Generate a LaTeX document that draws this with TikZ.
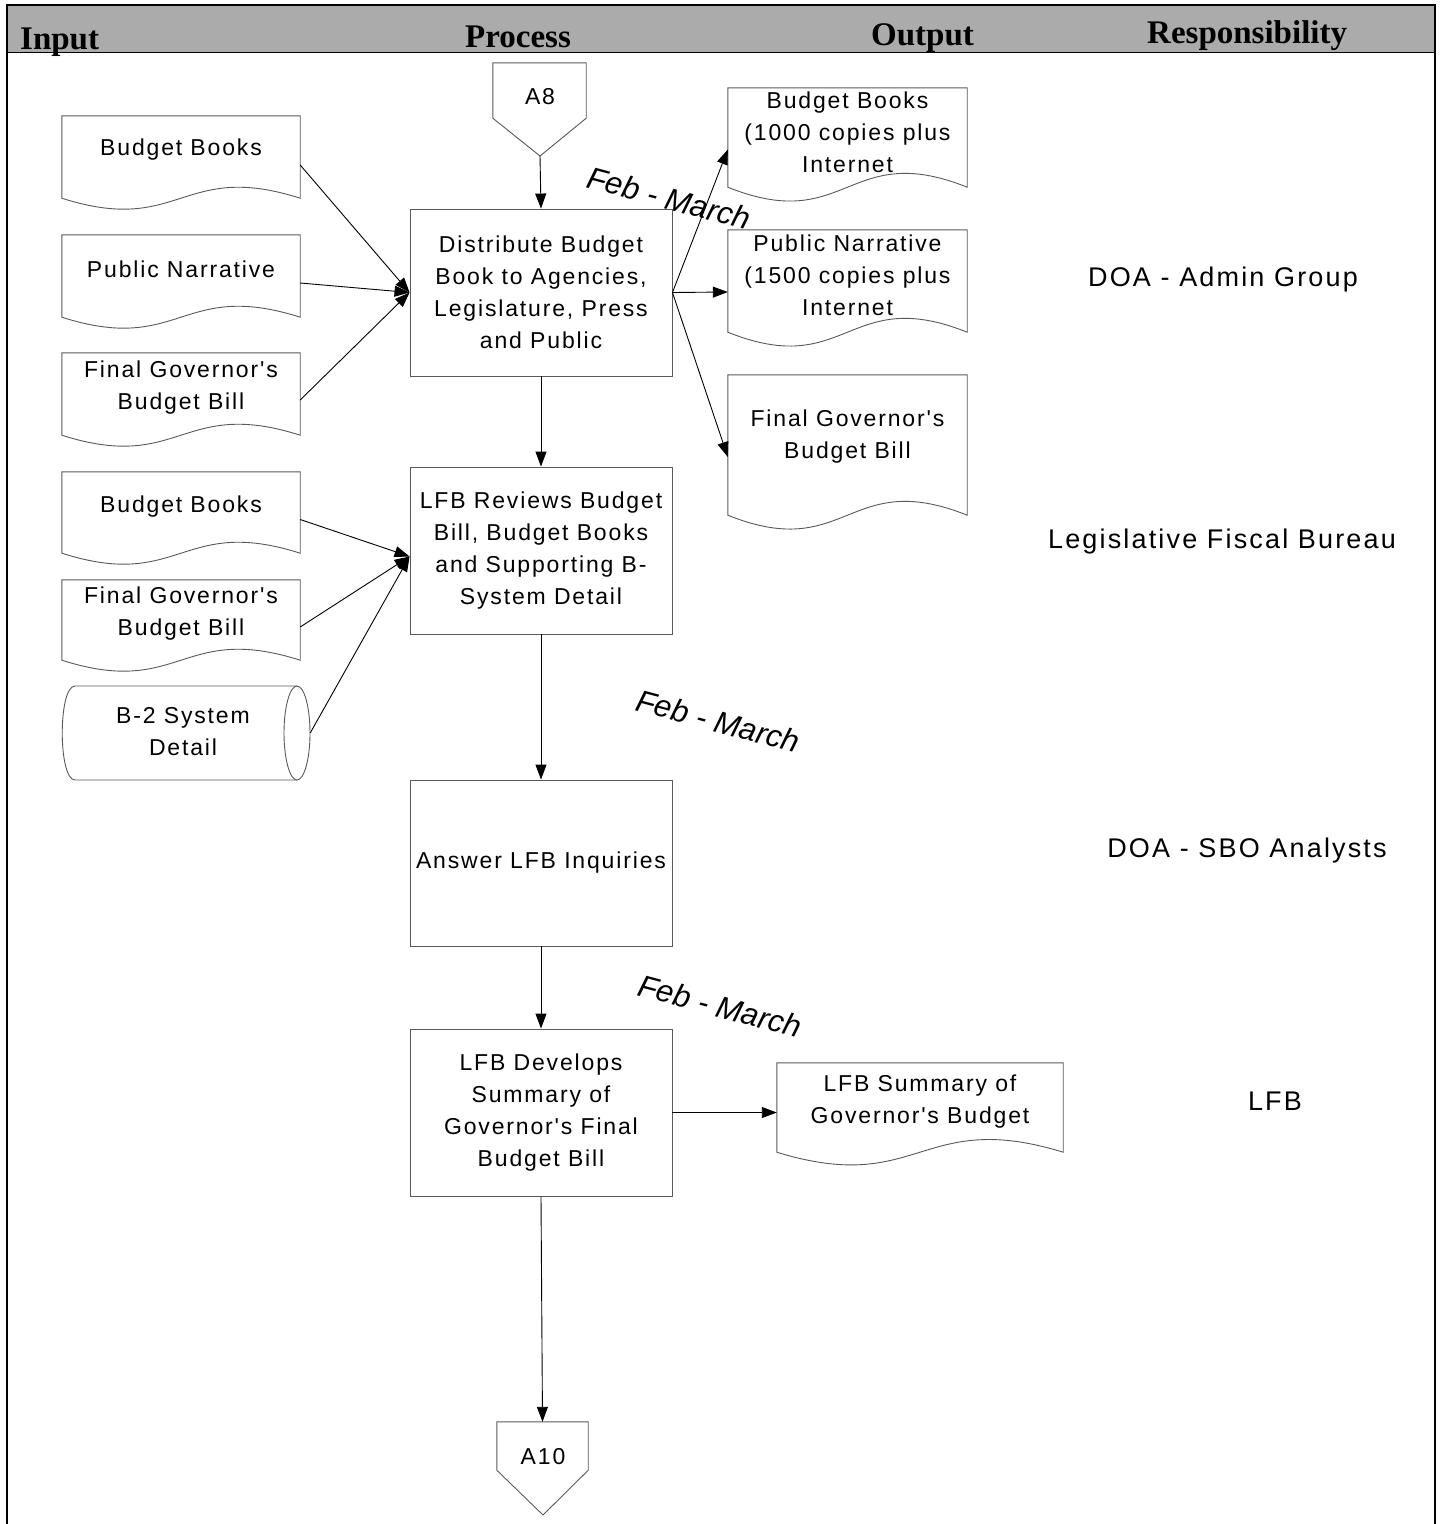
\documentclass[tikz,border=0pt]{standalone}
\usepackage{fontspec}
\usetikzlibrary{arrows.meta,calc}
\newfontfamily\bodyf{Liberation Sans}[LetterSpace=8]
\newfontfamily\headf{Liberation Serif}
\newfontfamily\datef{Liberation Sans}
\newcommand\bodysz{\bodyf\fontsize{23}{32}\selectfont}
\newcommand\respsz{\bodyf\fontsize{27}{30}\selectfont}
\newcommand\headsz{\headf\bfseries\fontsize{33}{33}\selectfont}
\newcommand\datesz{\datef\itshape\fontsize{31}{31}\selectfont}

% document symbol: name, centre x, centre y, width, side height, wave depth, text y, text
\newcommand\docshape[8]{%
  \node[region, minimum width=#4pt, minimum height=#5pt] (#1) at (#2,#3) {};
  \draw[outline] (#1.north west) -- (#1.north east) -- (#1.south east)
    .. controls ($(#1.south)+(0,-#6)$) and ($(#1.south)+(0,#6)$) .. (#1.south west) -- cycle;
  \node[txt] (#1-text) at (#2,#7) {#8};
}

\begin{document}
\begin{tikzpicture}[x=1pt,y=-1pt,
  outline/.style={draw=black!65, line width=0.9pt},
  region/.style={inner sep=0pt, draw=none},
  txt/.style={align=center, inner sep=0pt, font=\bodysz},
  procbox/.style={outline, minimum width=262pt, minimum height=167pt, inner sep=0pt, align=center, font=\bodysz},
  arr/.style={draw=black, line width=0.9pt, -{Triangle[length=15pt,width=11pt]}},
  headtext/.style={font=\headsz, inner sep=0pt, anchor=base west},
  resp/.style={font=\respsz, inner sep=0pt, anchor=base},
  datelbl/.style={font=\datesz, inner sep=0pt, rotate=-15}]
\useasboundingbox (0,0) rectangle (1440,1524);

% header band and frame
\fill[black!33] (7,5) rectangle (1435,52);
\draw[line width=1.2pt] (7,1524) -- (7,5) -- (1435,5) -- (1435,1524);
\draw[line width=1pt] (7,52) -- (1435,52);
\node[headtext] (h-input) at (20,49) {Input};
\node[headtext] (h-process) at (465,47) {Process};
\node[headtext] (h-output) at (871,45) {Output};
\node[headtext] (h-resp) at (1147,43) {Responsibility};

% off-page connectors
\node[region, minimum width=93pt, minimum height=55pt] (a8) at (539.5,90.5) {};
\coordinate (a8tip) at (540,156);
\draw[outline] (a8.north west) -- (a8.north east) -- (a8.south east) -- (a8tip) -- (a8.south west) -- cycle;
\node[txt] (a8-text) at (540,97) {A8};

\node[region, minimum width=91pt, minimum height=48pt] (a10) at (542.5,1446) {};
\coordinate (a10tip) at (543,1515);
\draw[outline] (a10.north west) -- (a10.north east) -- (a10.south east) -- (a10tip) -- (a10.south west) -- cycle;
\node[txt] (a10-text) at (543,1457) {A10};

% process steps
\node[procbox] (p1) at (541,292.5) {Distribute Budget\\Book to Agencies,\\Legislature, Press\\and Public};
\node[procbox] (p2) at (541,550.5) {LFB Reviews Budget\\Bill, Budget Books\\and Supporting B-\\System Detail};
\node[procbox, minimum height=166pt] (p3) at (541,863) {Answer LFB Inquiries};
\node[procbox] (p4) at (541,1112.5) {LFB Develops\\Summary of\\Governor's Final\\Budget Bill};

% inputs
\docshape{in1}{181}{157}{238}{82}{38}{150}{Budget Books}
\docshape{in2}{181}{276}{238}{82}{38}{269}{Public Narrative}
\docshape{in3}{181}{394}{238}{82}{38}{388}{Final Governor's\\Budget Bill}
\docshape{in4}{181}{512.5}{238}{81}{38}{507}{Budget Books}
\docshape{in5}{181}{620}{238}{80}{38}{614}{Final Governor's\\Budget Bill}

% B-2 storage cylinder
\node[region, minimum width=248pt, minimum height=94pt] (b2) at (186,733) {};
\draw[outline] (297,686) -- (75,686) .. controls (58,686) and (58,780) .. (75,780) -- (297,780);
\draw[outline] (297,733) ellipse [x radius=13, y radius=47];
\node[txt] (b2-text) at (183,732) {B-2 System\\Detail};

% outputs
\docshape{out1}{847.5}{137.5}{239}{99}{48}{132}{Budget Books\\(1000 copies plus\\Internet}
\docshape{out2}{847.5}{281}{239}{102}{48}{275}{Public Narrative\\(1500 copies plus\\Internet}
\docshape{out3}{847.5}{445}{239}{140}{48}{437}{Final Governor's\\Budget Bill}
\docshape{out4}{920}{1107.5}{286}{89}{44}{1102}{LFB Summary of\\Governor's Budget}

% main flow
\draw[arr] (a8tip) -- (p1.north);
\draw[arr] (p1.south) -- (p2.north);
\draw[arr] (p2.south) -- (p3.north);
\draw[arr] (p3.south) -- (p4.north);
\draw[arr] (p4.south) -- (a10.north);

% inputs into steps
\draw[arr] ([yshift=-8pt]in1.east) -- (p1.west);
\draw[arr] ([yshift=-7pt]in2.east) -- (p1.west);
\draw[arr] ([yshift=-6pt]in3.east) -- (p1.west);
\draw[arr] ([yshift=-7pt]in4.east) -- ([yshift=-6pt]p2.west);
\draw[arr] ([yshift=-7pt]in5.east) -- ([yshift=-6pt]p2.west);
\draw[arr] (b2.east) -- ([yshift=-6pt]p2.west);

% outputs from steps
\draw[arr] (p1.east) -- ([yshift=-12pt]out1.west);
\draw[arr] (p1.east) -- ([yshift=-11pt]out2.west);
\draw[arr] (p1.east) -- ([yshift=-12pt]out3.west);
\draw[arr] (p4.east) -- (p4.east -| out4.west);

% timing
\node[datelbl] (d1) at (669,198) {Feb - March};
\node[datelbl] (d2) at (718,721) {Feb - March};
\node[datelbl] (d3) at (720,1006) {Feb - March};

% responsibility
\node[resp] (r1) at (1223,286) {DOA - Admin Group};
\node[resp] (r2) at (1222,548) {Legislative Fiscal Bureau};
\node[resp] (r3) at (1247,857) {DOA - SBO Analysts};
\node[resp] (r4) at (1275,1110) {LFB};
\end{tikzpicture}
\end{document}
